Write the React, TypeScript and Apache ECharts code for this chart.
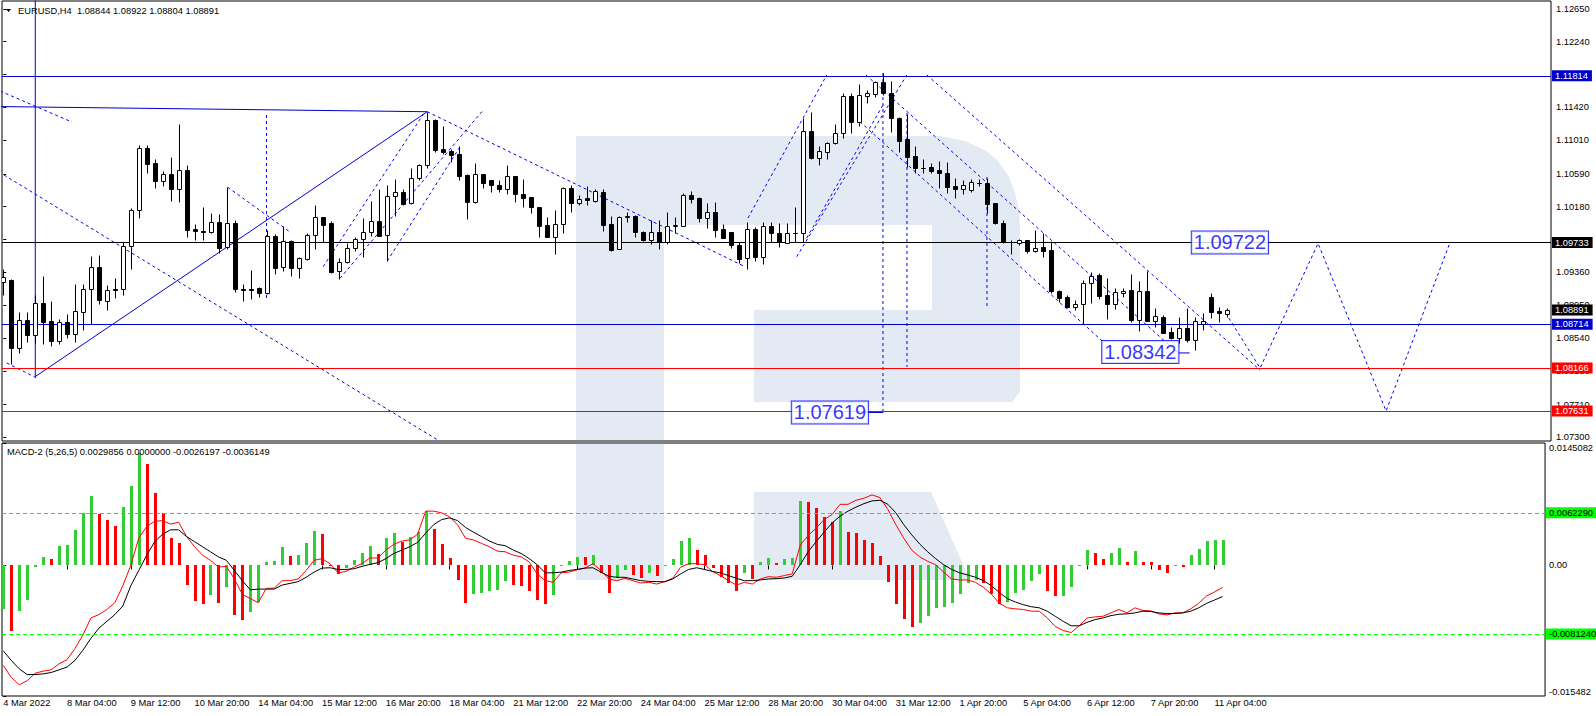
import React, { useEffect, useRef } from "react";
import * as echarts from "echarts";

const FONT = "'Liberation Sans', Arial, sans-serif";

// ---------- time axis ----------
const tickBars = [0, 8, 16, 24, 32, 40, 48, 56, 64, 72, 80, 88, 96, 104, 112, 120, 128, 136, 144, 152];
const timeLabels = [
  "4 Mar 2022", "8 Mar 04:00", "9 Mar 12:00", "10 Mar 20:00", "14 Mar 04:00", "15 Mar 12:00",
  "16 Mar 20:00", "18 Mar 04:00", "21 Mar 12:00", "22 Mar 20:00", "24 Mar 04:00", "25 Mar 12:00",
  "28 Mar 20:00", "30 Mar 04:00", "31 Mar 12:00", "1 Apr 20:00", "5 Apr 04:00", "6 Apr 12:00",
  "7 Apr 20:00", "11 Apr 04:00",
];

// ---------- EURUSD H4 candles ----------
const opens = [
  1.09245, 1.09266, 1.08421, 1.08766, 1.08575, 1.08979, 1.08754, 1.08509, 1.08737, 1.08588,
  1.0887, 1.09149, 1.09424, 1.08999, 1.09149, 1.09149, 1.09694, 1.10135, 1.10909, 1.10726,
  1.10505, 1.10588, 1.10405, 1.10638, 1.09902, 1.09873, 1.09869, 1.09985, 1.09677, 1.09973,
  1.09153, 1.09153, 1.09162, 1.09099, 1.09815, 1.09424, 1.09748, 1.0942, 1.09532, 1.09823,
  1.10048, 1.09973, 1.09378, 1.09486, 1.09661, 1.09773, 1.09861, 1.09998, 1.09823, 1.1031,
  1.1036, 1.10231, 1.10534, 1.10697, 1.11262, 1.10896, 1.10876, 1.10834, 1.10576, 1.10243,
  1.10588, 1.10514, 1.10451, 1.10405, 1.10564, 1.10339, 1.10301, 1.10172, 1.09948, 1.09806,
  1.0996, 1.10414, 1.10222, 1.10289, 1.10247, 1.1036, 1.09964, 1.09657, 1.10056, 1.10064,
  1.09869, 1.09765, 1.09869, 1.09744, 1.09943, 1.09943, 1.10326, 1.10293, 1.10043, 1.1011,
  1.09898, 1.0986, 1.09698, 1.09536, 1.09898, 1.09557, 1.09935, 1.09852, 1.09731, 1.09848,
  1.09848, 1.11121, 1.10792, 1.10859, 1.10971, 1.11096, 1.11562, 1.11241, 1.11566, 1.11583,
  1.11732, 1.11595, 1.11283, 1.11021, 1.10809, 1.10667, 1.10671, 1.10638, 1.10597, 1.10439,
  1.10397, 1.10384, 1.1048, 1.1048, 1.10222, 1.09981, 1.0974, 1.09723, 1.09765, 1.09631,
  1.09673, 1.0964, 1.09132, 1.09057, 1.08933, 1.08962, 1.09224, 1.09328, 1.09078, 1.08966,
  1.09107, 1.09141, 1.08766, 1.09128, 1.08758, 1.08808, 1.08612, 1.08537, 1.08662, 1.08517,
  1.08716, 1.09057, 1.08879, 1.08844,
];
const highs = [
  1.09399, 1.09278, 1.08866, 1.08866, 1.09078, 1.09316, 1.09004, 1.08783, 1.08841, 1.09216,
  1.09212, 1.09565, 1.09573, 1.09203, 1.09286, 1.09744, 1.1016, 1.10946, 1.10946, 1.10772,
  1.1063, 1.10805, 1.11212, 1.10701, 1.09964, 1.10181, 1.10098, 1.10085, 1.1043, 1.10014,
  1.09216, 1.0939, 1.09174, 1.0989, 1.09836, 1.0994, 1.09765, 1.09557, 1.09848, 1.10202,
  1.10056, 1.10002, 1.09536, 1.09732, 1.09798, 1.10035, 1.10252, 1.10397, 1.10451, 1.10522,
  1.10397, 1.10659, 1.1071, 1.11366, 1.11275, 1.11188, 1.10896, 1.10938, 1.10588, 1.10722,
  1.10588, 1.10514, 1.10514, 1.10697, 1.10564, 1.10522, 1.10306, 1.10181, 1.10048, 1.10139,
  1.10422, 1.10455, 1.10322, 1.10439, 1.10397, 1.10401, 1.10064, 1.10064, 1.10118, 1.10077,
  1.09881, 1.10014, 1.10014, 1.10118, 1.10048, 1.10355, 1.10376, 1.10305, 1.10222, 1.10239,
  1.09964, 1.0986, 1.09744, 1.09985, 1.09931, 1.09985, 1.09985, 1.09973, 1.09973, 1.10181,
  1.11283, 1.11366, 1.10938, 1.10992, 1.11212, 1.11595, 1.11603, 1.11711, 1.11637, 1.11753,
  1.11845, 1.11753, 1.113, 1.11333, 1.10938, 1.10771, 1.1073, 1.10755, 1.10742, 1.10534,
  1.10513, 1.10522, 1.10522, 1.10534, 1.10231, 1.10014, 1.09765, 1.09773, 1.09765, 1.09889,
  1.09856, 1.09756, 1.09141, 1.09078, 1.09016, 1.09265, 1.09369, 1.09357, 1.09286, 1.09161,
  1.09166, 1.09336, 1.09253, 1.09382, 1.08912, 1.08829, 1.08683, 1.08808, 1.0892, 1.08808,
  1.08849, 1.09107, 1.08933, 1.08922,
];
const lows = [
  1.09078, 1.08213, 1.0835, 1.08496, 1.08475, 1.08467, 1.08442, 1.08463, 1.08538, 1.08496,
  1.08642, 1.08717, 1.08966, 1.08891, 1.09045, 1.09078, 1.09399, 1.10035, 1.10605, 1.1041,
  1.10439, 1.10256, 1.10243, 1.09798, 1.09765, 1.09765, 1.09856, 1.09607, 1.09648, 1.09112,
  1.09004, 1.09024, 1.09058, 1.09091, 1.09341, 1.09382, 1.09316, 1.09295, 1.09515, 1.09657,
  1.09744, 1.09357, 1.09274, 1.09482, 1.09632, 1.09557, 1.09811, 1.0981, 1.09503, 1.10069,
  1.10206, 1.10214, 1.10514, 1.10668, 1.10867, 1.10838, 1.10742, 1.10514, 1.10023, 1.10231,
  1.10418, 1.10368, 1.10368, 1.10339, 1.10243, 1.10172, 1.10098, 1.09806, 1.09798, 1.0959,
  1.09856, 1.1011, 1.10197, 1.10197, 1.10239, 1.09881, 1.09632, 1.09648, 1.09994, 1.09806,
  1.09756, 1.09711, 1.09648, 1.09711, 1.09848, 1.09939, 1.10231, 1.09993, 1.0991, 1.09798,
  1.0979, 1.09661, 1.09473, 1.09407, 1.09507, 1.09461, 1.09744, 1.09681, 1.09723, 1.09744,
  1.0974, 1.10771, 1.10701, 1.10771, 1.10965, 1.11042, 1.11104, 1.11191, 1.1147, 1.11553,
  1.11574, 1.11117, 1.10867, 1.1068, 1.10597, 1.10597, 1.10597, 1.10418, 1.10355, 1.10285,
  1.10335, 1.10368, 1.10439, 1.10097, 1.09964, 1.09731, 1.0959, 1.09702, 1.09607, 1.09619,
  1.09557, 1.09107, 1.08995, 1.08912, 1.08891, 1.08712, 1.08983, 1.09024, 1.08783, 1.08908,
  1.09049, 1.08745, 1.08633, 1.0875, 1.08675, 1.086, 1.08529, 1.08475, 1.08496, 1.08392,
  1.08641, 1.08787, 1.08745, 1.08804,
];
const closes = [
  1.09307, 1.08421, 1.08766, 1.08575, 1.08974, 1.08746, 1.08509, 1.08737, 1.08588, 1.08879,
  1.09149, 1.09424, 1.09016, 1.09137, 1.09137, 1.09694, 1.10135, 1.10909, 1.10717, 1.10505,
  1.10588, 1.10405, 1.10634, 1.0989, 1.09873, 1.09869, 1.09985, 1.09669, 1.09973, 1.09153,
  1.09141, 1.09145, 1.09108, 1.09811, 1.0942, 1.09748, 1.0942, 1.09536, 1.09823, 1.10048,
  1.09956, 1.0937, 1.09486, 1.09661, 1.09773, 1.09861, 1.09998, 1.09819, 1.1031, 1.1036,
  1.10218, 1.10534, 1.10697, 1.11258, 1.10888, 1.10867, 1.1083, 1.10568, 1.10243, 1.10588,
  1.1048, 1.10447, 1.10405, 1.10568, 1.10335, 1.10293, 1.10172, 1.09944, 1.09806, 1.0996,
  1.10414, 1.10222, 1.10276, 1.1026, 1.10376, 1.09956, 1.09644, 1.10056, 1.10064, 1.09869,
  1.09765, 1.09869, 1.09744, 1.09939, 1.09948, 1.10322, 1.1028, 1.10043, 1.1011, 1.09894,
  1.09794, 1.09698, 1.09532, 1.09898, 1.09557, 1.09935, 1.09848, 1.0974, 1.09848, 1.09852,
  1.11121, 1.10792, 1.10875, 1.10971, 1.11096, 1.11562, 1.11241, 1.11574, 1.11595, 1.11732,
  1.11595, 1.11283, 1.11004, 1.10805, 1.10659, 1.10663, 1.1063, 1.10597, 1.1043, 1.10397,
  1.10451, 1.10484, 1.10476, 1.10214, 1.09981, 1.0974, 1.09736, 1.09765, 1.09631, 1.09669,
  1.09631, 1.09132, 1.09045, 1.08933, 1.08962, 1.09224, 1.0932, 1.0907, 1.08966, 1.09111,
  1.09132, 1.08766, 1.09128, 1.08758, 1.08812, 1.08608, 1.08537, 1.08662, 1.08517, 1.08758,
  1.0875, 1.0887, 1.08849, 1.08891,
];

// ---------- MACD-2 (5,26,5) ----------
const histValues = [
  -0.00514, -0.00776, -0.00539, -0.0041, -0.0002, 0.00096, 0.00072, 0.00229, 0.00241, 0.00422,
  0.00623, 0.0082, 0.00615, 0.00543, 0.0047, 0.00691, 0.00944, 0.01334, 0.01206, 0.00856,
  0.00623, 0.00322, 0.00269, -0.00229, -0.00422, -0.00454, -0.00354, -0.00442, -0.00261, -0.00587,
  -0.00647, -0.00551, -0.00438, 0.0004, 0.00052, 0.00217, 0.00113, 0.00125, 0.00265, 0.0041,
  0.00374, 0.00005, -0.001, -0.0003, 0.0006, 0.00149, 0.00233, 0.00133, 0.00326, 0.00386,
  0.00281, 0.00342, 0.0039, 0.00643, 0.00434, 0.00257, 0.00084, -0.00169, -0.00442, -0.00334,
  -0.00322, -0.00301, -0.00289, -0.00181, -0.00237, -0.00241, -0.00305, -0.0041, -0.00454, -0.00346,
  0.0001, 0.00048, 0.00096, 0.00096, 0.00129, -0.00088, -0.00322, -0.00153, -0.0006, -0.00113,
  -0.00153, -0.00092, -0.00121, 0.0001, 0.00072, 0.00289, 0.00326, 0.00181, 0.00121, -0.00032,
  -0.00141, -0.00213, -0.00301, -0.00092, -0.00161, 0.00036, 0.00084, 0.00032, 0.00072, 0.00084,
  0.0076, 0.00748, 0.00675, 0.00579, 0.00518, 0.00639, 0.00398, 0.00386, 0.00301, 0.00265,
  0.00109, -0.00193, -0.00458, -0.00639, -0.00735, -0.00687, -0.00603, -0.00506, -0.0049, -0.00442,
  -0.00334, -0.00213, -0.00169, -0.00213, -0.00334, -0.00454, -0.0043, -0.00326, -0.00289, -0.00181,
  -0.00104, -0.00309, -0.00358, -0.00358, -0.00261, 0.0001, 0.00181, 0.00145, 0.00072, 0.00145,
  0.00205, 0.00036, 0.00169, 0.00036, 0.00036, -0.00052, -0.00092, 0.0, -0.0002, 0.00121,
  0.00193, 0.00289, 0.00301, 0.00299,
];
// g = rising buffer (green), r = falling buffer (red)
const histColorCodes =
  "grggggrggg" + "ggrrrgggrr" + "rrrrrrgrgr" + "rgggggrggg" + "rrrggggrgg" +
  "rgggrrrrrg" + "ggggrrrrrg" + "gggrgrrggr" + "rgrggggrrr" + "rrrgrggrgg" +
  "grrrrgrrrr" + "rrrrrggggg" + "gggrrrgggg" + "grrggggrrg" + "grgrrrrgrg" + "gggg";
const macdLine = [
  -0.01186, -0.01327, -0.01415, -0.01367, -0.01278, -0.01254, -0.01238, -0.01166, -0.01118, -0.00985,
  -0.00824, -0.00623, -0.00583, -0.00523, -0.00442, -0.00241, 0.0, 0.00322, 0.00462, 0.00523,
  0.00531, 0.0049, 0.00511, 0.00342, 0.00221, 0.00121, 0.0006, -0.0002, -0.00012, -0.00161,
  -0.00342, -0.00394, -0.00442, -0.00273, -0.00269, -0.00181, -0.00181, -0.00161, -0.0006, 0.0006,
  0.0008, 0.0002, -0.00088, -0.00072, -0.0002, 0.0002, 0.00088, 0.00088, 0.00181, 0.00249,
  0.00289, 0.00302, 0.0037, 0.00643, 0.00643, 0.00623, 0.00575, 0.00482, 0.00322, 0.00302,
  0.00261, 0.00221, 0.00169, 0.00161, 0.00121, 0.00101, 0.0004, -0.00101, -0.00181, -0.00201,
  -0.00088, -0.0008, -0.00052, -0.00032, 0.0002, -0.0006, -0.00161, -0.00181, -0.00153, -0.00181,
  -0.00209, -0.00201, -0.00221, -0.00193, -0.00153, -0.0002, 0.0002, 0.0002, 0.00008, -0.00072,
  -0.00121, -0.00181, -0.00233, -0.00201, -0.00221, -0.00161, -0.00133, -0.00141, -0.00121, -0.00101,
  0.00241, 0.00354, 0.00442, 0.00543, 0.00603, 0.00724, 0.00724, 0.00772, 0.00796, 0.00836,
  0.00804, 0.00663, 0.00482, 0.00322, 0.00181, 0.00101, 0.00048, 0.00008, -0.0008, -0.00161,
  -0.00173, -0.00173, -0.00201, -0.00261, -0.00342, -0.0045, -0.00503, -0.00515, -0.00523, -0.00543,
  -0.00543, -0.00623, -0.00724, -0.00772, -0.00796, -0.00716, -0.00623, -0.00611, -0.00603, -0.00563,
  -0.00523, -0.00563, -0.00503, -0.00535, -0.00539, -0.00575, -0.00587, -0.00563, -0.00563, -0.00515,
  -0.0045, -0.00362, -0.00314, -0.00262,
];
const signalLine = [
  -0.01013, -0.01126, -0.01226, -0.01294, -0.01294, -0.01286, -0.0127, -0.01238, -0.01206, -0.01126,
  -0.01005, -0.00864, -0.00744, -0.00663, -0.00583, -0.00482, -0.00241, -0.0006, 0.00121, 0.00281,
  0.0037, 0.00422, 0.00422, 0.00342, 0.00281, 0.00221, 0.00161, 0.00101, 0.0006, -0.0006,
  -0.00181, -0.00289, -0.00281, -0.00281, -0.00281, -0.00233, -0.00213, -0.00193, -0.00141, -0.0008,
  -0.00032, -0.00028, -0.00048, -0.00048, -0.0004, -0.00012, 0.00012, 0.00032, 0.0008, 0.00141,
  0.00181, 0.00221, 0.00273, 0.00382, 0.00482, 0.00543, 0.00563, 0.00531, 0.0045, 0.00394,
  0.00342, 0.00289, 0.00249, 0.00233, 0.00181, 0.00141, 0.0008, 0.00008, -0.00088, -0.00088,
  -0.0008, -0.0006, -0.00048, -0.00032, -0.00028, -0.0008, -0.00129, -0.00141, -0.00141, -0.00161,
  -0.00181, -0.00189, -0.00193, -0.00193, -0.00161, -0.00101, -0.00048, -0.00028, -0.00048, -0.00072,
  -0.00088, -0.00121, -0.00153, -0.00181, -0.00181, -0.00173, -0.00161, -0.00157, -0.00149, -0.00129,
  0.00008, 0.00161, 0.00281, 0.00394, 0.00503, 0.00583, 0.00643, 0.00691, 0.00732, 0.00764,
  0.00772, 0.00724, 0.00623, 0.00482, 0.00362, 0.00253, 0.00161, 0.0008, 0.00008, -0.00048,
  -0.00088, -0.00113, -0.00141, -0.00181, -0.00241, -0.00322, -0.00394, -0.00434, -0.00466, -0.0049,
  -0.00503, -0.00543, -0.00603, -0.00663, -0.00716, -0.00716, -0.00675, -0.00643, -0.00623, -0.00595,
  -0.00579, -0.00575, -0.00563, -0.00543, -0.00547, -0.00563, -0.00571, -0.00571, -0.00563, -0.00543,
  -0.00503, -0.0045, -0.0041, -0.0037,
];

// ---------- axes ----------
const priceTicks = [1.1265, 1.1224, 1.1183, 1.1142, 1.1101, 1.1059, 1.1018, 1.0977, 1.0936, 1.0895, 1.0854, 1.0813, 1.0771, 1.073];
const macdTicks = [-0.015482, 0, 0.0145082];
const macdTickLabels = ["-0.015482", "0.00", "0.0145082"];

// ---------- levels and drawn objects (bar index, price) ----------
const levelPrices = [1.11814, 1.09733, 1.08714, 1.08166, 1.07631];
const levelColors = ["#0000cd", "#000000", "#0000cd", "#ff0000", "#ff0000"];
const macdLevels = [0.006229, -0.008124];
const macdLevelLabels = ["0.0062290", "-0.0081240"];

const solidTrendLines = [
  [[4.0, 1.0806], [53, 1.11366]],
  [[-0.3, 1.1143], [53, 1.11366]],
  [[4.0, 1.1276], [4.0, 1.0806]],
  [[146.8, 1.08355], [148.3, 1.08355]],
  [[107.8, 1.07612], [110, 1.07612]],
];
const dashedTrendLines = [
  [[-0.4, 1.11624], [8.6, 1.11237]],
  [[0.09, 1.10576], [54.3, 1.07269]],
  [[0.43, 1.0823], [4.17, 1.08043]],
  [[28.05, 1.10423], [35.84, 1.09865]],
  [[32.9, 1.11325], [32.9, 1.09016]],
  [[39.99, 1.09432], [52.71, 1.11366]],
  [[42.09, 1.09287], [59.93, 1.11378]],
  [[48.0, 1.09503], [57.09, 1.10929]],
  [[53, 1.11366], [92.71, 1.09432]],
  [[93.09, 1.10039], [102.93, 1.11824]],
  [[99.18, 1.09556], [112.93, 1.11824]],
  [[100.43, 1.0979], [109.96, 1.1145]],
  [[115.46, 1.11824], [157.09, 1.08142]],
  [[107.84, 1.11824], [146.84, 1.08355]],
  [[107.09, 1.11241], [137.46, 1.08496]],
  [[109.96, 1.11849], [109.96, 1.07619]],
  [[112.96, 1.1135], [112.96, 1.0818]],
  [[122.96, 1.10551], [122.96, 1.08929]],
  [[153.2, 1.08791], [157.1, 1.08166], [164.35, 1.09722], [172.85, 1.07631], [180.8, 1.09722]],
];
const priceTagTexts = ["1.09722", "1.08342", "1.07619"];
const priceTagAnchors = [[148.5, 1.09734], [137.3, 1.08367], [98.5, 1.07612]];

const XMIN = -0.16;
const XMAX = XMIN + 1549 / 8;
const WM = "#e4eaf3";

export default function App() {
  const ref = useRef<HTMLDivElement>(null);

  useEffect(() => {
    if (!ref.current) return;
    const chart = echarts.init(ref.current, undefined, { renderer: "svg" });

    const candleData = opens.map((o, i) => [i, o, closes[i], lows[i], highs[i]]);

    const option: any = {
      animation: false,
      backgroundColor: "#ffffff",
      textStyle: { fontFamily: FONT },
      grid: [
        { left: 2, top: 1, width: 1549, height: 440, show: true, borderColor: "#000", borderWidth: 1, backgroundColor: "transparent" },
        { left: 2, top: 443, width: 1549, height: 253, show: true, borderColor: "#000", borderWidth: 1, backgroundColor: "transparent" },
      ],
      xAxis: [
        { type: "value", gridIndex: 0, min: XMIN, max: XMAX, show: false },
        {
          type: "value", gridIndex: 1, min: XMIN, max: XMAX,
          axisLine: { show: false }, splitLine: { show: false },
          axisTick: { show: true, customValues: tickBars, length: 4, lineStyle: { color: "#000" } },
          axisLabel: {
            customValues: tickBars, align: "left", margin: 2, fontSize: 9.3, color: "#000", fontFamily: FONT,
            formatter: (v: number) => {
              const i = tickBars.indexOf(Math.round(v));
              return i >= 0 ? timeLabels[i] : "";
            },
          },
        },
      ],
      yAxis: [
        {
          type: "value", gridIndex: 0, position: "right", min: 1.07256, max: 1.12748,
          splitLine: { show: false }, axisLine: { show: false },
          axisTick: { show: true, customValues: priceTicks, length: 3, lineStyle: { color: "#000" } },
          axisLabel: { customValues: priceTicks, formatter: (v: number) => v.toFixed(5), fontSize: 9.3, color: "#000", margin: 5, fontFamily: FONT },
        },
        {
          type: "value", gridIndex: 1, position: "right", min: -0.015482, max: 0.0145082,
          splitLine: { show: false }, axisLine: { show: false },
          axisTick: { show: true, customValues: macdTicks, length: 3, lineStyle: { color: "#000" } },
          axisLabel: {
            customValues: macdTicks, fontSize: 9.3, color: "#000", margin: 4, fontFamily: FONT,
            verticalAlignMinLabel: "bottom", verticalAlignMaxLabel: "top",
            formatter: (v: number) => {
              let best = 0;
              macdTicks.forEach((t, i) => { if (Math.abs(t - v) < Math.abs(macdTicks[best] - v)) best = i; });
              return macdTickLabels[best];
            },
          },
        },
      ],
      series: [
        {
          type: "lines", coordinateSystem: "cartesian2d", xAxisIndex: 0, yAxisIndex: 0, polyline: true, silent: true, z: 3,
          data: dashedTrendLines.map((c) => ({ coords: c })),
          lineStyle: { color: "#0000ff", width: 1, type: [3, 3], opacity: 1 },
        },
        {
          type: "lines", coordinateSystem: "cartesian2d", xAxisIndex: 0, yAxisIndex: 0, polyline: true, silent: true, z: 3,
          data: solidTrendLines.map((c) => ({ coords: c })),
          lineStyle: { color: "#0000cd", width: 1, type: "solid", opacity: 1 },
        },
        {
          type: "scatter", xAxisIndex: 0, yAxisIndex: 0, symbolSize: 0, silent: true, z: 4,
          data: [[153, closes[153]]],
          markLine: {
            symbol: ["none", "none"], silent: true, animation: false, precision: 6,
            data: [
              ...levelPrices.map((p, i) => ({
                yAxis: p,
                lineStyle: { color: levelColors[i], width: 1, type: "solid" },
                label: {
                  show: true, position: "end", distance: 1, formatter: p.toFixed(5), color: "#fff",
                  backgroundColor: levelColors[i], padding: [1, 4, 0, 3], fontSize: 9.3, lineHeight: 10, fontFamily: FONT,
                },
              })),
              {
                yAxis: closes[153],
                lineStyle: { color: "rgba(0,0,0,0)", width: 1 },
                label: {
                  show: true, position: "end", distance: 1, formatter: closes[153].toFixed(5), color: "#fff",
                  backgroundColor: "#000", padding: [1, 4, 0, 3], fontSize: 9.3, lineHeight: 10, fontFamily: FONT,
                },
              },
            ],
          },
        },
        {
          type: "custom", xAxisIndex: 0, yAxisIndex: 0, clip: true, z: 5, silent: true,
          data: candleData,
          encode: { x: 0, y: [1, 2, 3, 4] },
          renderItem: (params: any, api: any) => {
            const i = api.value(0);
            const o = api.value(1), c = api.value(2), l = api.value(3), h = api.value(4);
            const pO = api.coord([i, o]);
            const pC = api.coord([i, c]);
            const pL = api.coord([i, l]);
            const pH = api.coord([i, h]);
            const cx = Math.round(pO[0]) + 0.5;
            const top = Math.round(Math.min(pO[1], pC[1])) + 0.5;
            const bot = Math.round(Math.max(pO[1], pC[1])) + 0.5;
            const bull = c >= o;
            return {
              type: "group",
              children: [
                { type: "line", shape: { x1: cx, y1: Math.round(pH[1]) + 0.5, x2: cx, y2: Math.round(pL[1]) + 0.5 }, style: { stroke: "#000", lineWidth: 1 } },
                { type: "rect", shape: { x: cx - 2, y: top, width: 4, height: bot - top }, style: { fill: bull ? "#fff" : "#000", stroke: "#000", lineWidth: 1 } },
              ],
            };
          },
        },
        {
          type: "scatter", xAxisIndex: 0, yAxisIndex: 0, symbolSize: 1, silent: true, z: 7,
          itemStyle: { color: "rgba(0,0,0,0)" },
          data: priceTagAnchors.map((a, i) => ({ value: a, name: priceTagTexts[i] })),
          label: {
            show: true, position: "right", distance: 0, formatter: (p: any) => p.name,
            fontSize: 20, lineHeight: 21, color: "#0000ff", backgroundColor: "#fff",
            borderColor: "#0000ff", borderWidth: 1, padding: [1, 2, 0, 2], fontFamily: FONT,
          },
        },
        {
          type: "custom", xAxisIndex: 1, yAxisIndex: 1, clip: true, z: 3, silent: true,
          data: histValues.map((v, i) => [i, v]),
          encode: { x: 0, y: 1 },
          renderItem: (params: any, api: any) => {
            const i = api.value(0), v = api.value(1);
            const p0 = api.coord([i, 0]);
            const p1 = api.coord([i, v]);
            const x = Math.round(p0[0]) - 1;
            const y0 = Math.round(p0[1]);
            const y1 = Math.round(p1[1]);
            return {
              type: "rect",
              shape: { x, y: Math.min(y0, y1), width: 3, height: Math.max(1, Math.abs(y1 - y0)) },
              style: { fill: histColorCodes[params.dataIndex] === "g" ? "#32cd32" : "#ff0000" },
            };
          },
        },
        {
          type: "line", xAxisIndex: 1, yAxisIndex: 1, symbol: "none", silent: true, z: 4,
          data: macdLine.map((v, i) => [i, v]),
          lineStyle: { color: "#ff0000", width: 1 },
        },
        {
          type: "line", xAxisIndex: 1, yAxisIndex: 1, symbol: "none", silent: true, z: 4,
          data: signalLine.map((v, i) => [i, v]),
          lineStyle: { color: "#000000", width: 1 },
        },
        {
          type: "scatter", xAxisIndex: 1, yAxisIndex: 1, symbolSize: 0, silent: true, z: 5,
          data: [[153, histValues[153]]],
          markLine: {
            symbol: ["none", "none"], silent: true, animation: false, precision: 8,
            data: macdLevels.map((v, i) => ({
              yAxis: v,
              lineStyle: { color: "#00ff00", width: 1, type: [4, 3] },
              label: {
                show: true, position: "end", distance: 1, formatter: macdLevelLabels[i], color: "#000",
                backgroundColor: "#00ff00", padding: [1, 4, 0, 3], fontSize: 9.3, lineHeight: 10, fontFamily: FONT,
              },
            })),
          },
        },
      ],
      graphic: [
        {
          type: "polygon", z: 0, silent: true,
          shape: {
            points: [
              [576, 136], [940, 136], [965, 141], [985, 150], [997, 160], [1008, 175], [1015, 193], [1019, 210],
              [1020, 228], [1020, 392], [1012, 402], [754, 402], [754, 310], [932, 310], [932, 225], [664, 225],
              [664, 440], [576, 440],
            ],
          },
          style: { fill: WM },
        },
        { type: "rect", z: 0, silent: true, shape: { x: 576, y: 444, width: 88, height: 136 }, style: { fill: WM } },
        { type: "polygon", z: 0, silent: true, shape: { points: [[754, 492], [931, 492], [970, 580], [754, 580]] }, style: { fill: WM } },
        { type: "polygon", z: 10, silent: true, shape: { points: [[6, 9], [11, 9], [8.5, 12]] }, style: { fill: "#000" } },
        {
          type: "text", z: 10, silent: true, x: 18, y: 11,
          style: { text: "EURUSD,H4  1.08844 1.08922 1.08804 1.08891", fill: "#000", fontSize: 9.3, fontFamily: FONT, verticalAlign: "middle" },
        },
        {
          type: "text", z: 10, silent: true, x: 7, y: 452,
          style: { text: "MACD-2 (5,26,5) 0.0029856 0.0000000 -0.0026197 -0.0036149", fill: "#000", fontSize: 9.3, fontFamily: FONT, verticalAlign: "middle" },
        },
      ],
    };

    chart.setOption(option);
    return () => chart.dispose();
  }, []);

  return (
    <div
      ref={ref}
      style={{ position: "fixed", left: 0, top: 0, width: 1596, height: 716, background: "#fff" }}
    />
  );
}
